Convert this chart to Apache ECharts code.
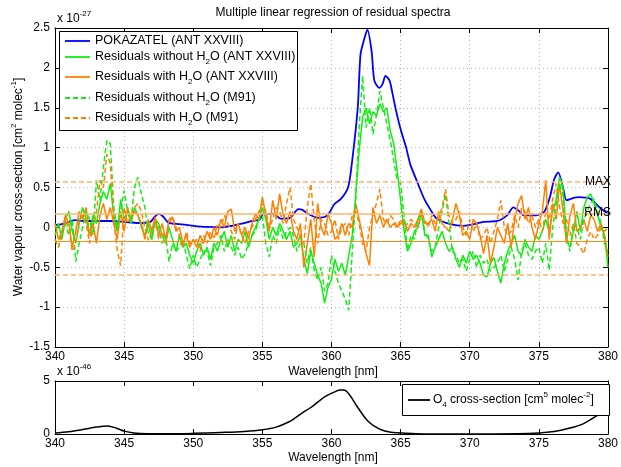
<!DOCTYPE html>
<html>
<head>
<meta charset="utf-8">
<script src="https://cdn.jsdelivr.net/npm/echarts@6/dist/echarts.min.js"></script>
<style>html,body{margin:0;padding:0;background:#fff}#main{width:621px;height:467px}</style>
</head>
<body>
<div id="main"></div>
<script>
// wavelength grid of the residual spectra (nm)
var wlStart = 340, wlStep = 0.25;

// residuals without H2O (ANT XXVIII), x 1e-27
var resNoH2oAnt = [
  -0.10, 0.05, -0.15, 0.10,   0.20, -0.05, -0.20, 0.05,   0.25, 0.10, -0.10, 0.15,
  0.05, 0.30, 0.45, 0.35,     0.55, 0.15, -0.05, 0.35,    0.10, 0.20, 0.05, 0.25,
  0.15, 0.00, -0.10, 0.05,    -0.15, 0.10, 0.05, -0.10,   -0.20, 0.00, -0.15, -0.30,
  -0.10, -0.25, -0.20, -0.35, -0.45, -0.30, -0.20, -0.35, -0.25, -0.40, -0.20, -0.30,
  -0.15, -0.05, -0.25, -0.10, -0.30, -0.15, -0.20, -0.05, -0.25, -0.10, 0.00, 0.10,
  0.25, 0.10, -0.15, 0.00,    -0.10, 0.05, -0.05, -0.15,  -0.05, -0.25, -0.20, -0.10,
  -0.40, -0.58, -0.30, -0.45, -0.60, -0.70, -0.95, -0.75, -0.65, -0.40, -0.55, -0.45,
  -0.60, -0.35, -0.10, 0.40,  0.96, 1.38, 1.50, 1.30,     1.45, 1.40, 1.55, 1.45,
  1.50, 1.21, 1.05, 0.71,     0.34, -0.04, -0.30, -0.20,  -0.05, 0.00, 0.21, -0.10,
  -0.10, -0.37, -0.25, -0.15, -0.05, -0.20, -0.30, -0.25, -0.40, -0.50, -0.35, -0.45,
  -0.30, -0.40, -0.35, -0.45, -0.60, -0.62, -0.45, -0.38, -0.55, -0.70, -0.45, -0.30,
  -0.20, -0.10, -0.30, -0.35, -0.15, -0.25, -0.30, -0.10, -0.15, -0.05, 0.10, -0.05,
  0.20, 0.35, 0.63, 0.50,     -0.15, -0.25, -0.05, 0.20,  -0.05, 0.25, 0.38, 0.42,
  0.30, 0.15, 0.00, -0.10,    -0.50
];

// residuals with H2O (ANT XXVIII)
var resH2oAnt = [
  0.05, -0.15, -0.05, 0.15,   0.05, -0.25, -0.05, 0.20,   0.10, 0.25, -0.10, 0.05,
  -0.20, 0.15, 0.30, 0.10,    0.25, 0.05, -0.15, 0.20,    -0.05, 0.25, 0.10, 0.20,
  0.15, 0.05, -0.15, 0.10,    -0.05, 0.13, -0.10, 0.05,   -0.15, 0.10, 0.13, -0.05,
  0.00, -0.20, -0.10, -0.25,  -0.15, -0.25, -0.10, -0.20, -0.05, -0.15, 0.00, -0.10,
  0.10, 0.00, 0.20, 0.23,     -0.05, 0.05, -0.10, 0.00,   -0.15, 0.05, 0.17, 0.10,
  0.38, 0.15, -0.05, 0.34,    0.10, 0.42, 0.15, 0.05,     0.20, -0.05, -0.15, 0.05,
  -0.50, -0.20, 0.10, -0.37,  0.30, 0.00, -0.10, 0.17,    0.05, -0.15, -0.10, 0.05,
  -0.10, 0.05, 0.00, 0.30,    0.10, -0.10, -0.33, -0.48,  0.25, 0.05, 0.15, 0.00,
  0.10, 0.00, 0.05, 0.00,     0.05, 0.10, -0.05, 0.05,    0.00, 0.10, 0.23, 0.05,
  0.05, 0.10, -0.05, 0.20,    0.05, 0.00, -0.05, 0.10,    0.30, 0.15, -0.10, -0.05,
  -0.15, 0.10, 0.05, -0.10,   -0.33, -0.10, -0.45, -0.25, 0.00, -0.10, -0.20, 0.05,
  -0.25, 0.10, 0.30, 0.40,    0.10, 0.25, 0.00, -0.15,    0.05, 0.20, 0.59, -0.15,
  0.30, 0.10, 0.55, 0.20,     -0.20, 0.15, 0.30, -0.05,   0.00, 0.10, -0.05, 0.15,
  0.10, -0.05, 0.05, -0.10,   -0.37
];

// residuals without H2O (M91)
var resNoH2oM91 = [
  -0.15, -0.25, -0.05, 0.05,  -0.10, 0.10, -0.43, -0.20,  0.00, 0.20, 0.10, -0.10,
  0.59, 0.34, 0.75, 1.09,     1.05, 0.25, 0.00, 0.20,     0.46, 0.21, 0.10, 0.50,
  0.63, 0.42, 0.25, -0.08,    -0.15, 0.05, 0.00, -0.20,   -0.10, -0.43, -0.20, -0.30,
  -0.25, -0.15, -0.35, -0.52, -0.35, -0.50, -0.40, -0.30, -0.30, -0.48, -0.25, -0.20,
  -0.10, -0.30, -0.15, -0.25, -0.35, -0.25, -0.40, -0.33, -0.20, -0.10, -0.05, 0.10,
  0.15, -0.20, -0.37, -0.10,  -0.20, 0.00, -0.15, -0.05,  0.00, -0.10, -0.30, -0.20,
  -0.20, -0.45, -0.25, -0.54, -0.66, -0.50, -0.80, -0.70, -0.35, -0.55, -0.70, -0.80,
  -0.90, -1.04, -0.30, 0.34,  1.25, 1.90, 1.25, 1.50,     1.17, 1.40, 1.71, 1.50,
  1.30, 1.09, 0.84, 0.59,     0.55, 0.13, -0.29, -0.10,   -0.15, 0.10, 0.15, -0.05,
  -0.15, -0.30, -0.25, 0.00,  0.20, 0.42, 0.05, -0.30,    -0.35, -0.45, -0.40, -0.55,
  -0.40, -0.30, -0.50, -0.35, -0.45, -0.40, -0.55, -0.50, -0.45, -0.35, -0.55, -0.40,
  -0.25, -0.40, -0.66, -0.30, -0.20, -0.35, -0.40, -0.30, -0.25, -0.45, -0.20, -0.54,
  0.00, 0.30, 0.55, 0.40,     -0.10, -0.30, 0.05, 0.00,   -0.15, 0.10, 0.20, 0.30,
  0.35, 0.20, 0.05, -0.20,    -0.30
];

// residuals with H2O (M91)
var resH2oM91 = [
  -0.15, -0.25, -0.10, 0.10,  0.00, -0.30, -0.20, 0.10,   0.15, 0.05, -0.20, 0.00,
  0.20, 0.59, 0.50, 0.92,     0.80, 0.10, -0.29, -0.48,   0.25, 0.05, 0.15, 0.25,
  0.30, 0.20, 0.00, -0.16,    -0.05, 0.10, -0.15, -0.05,  -0.20, 0.05, 0.13, 0.00,
  -0.10, -0.25, -0.05, -0.20, -0.20, -0.15, -0.30, -0.10, -0.20, -0.05, -0.15, 0.05,
  0.00, 0.15, 0.05, -0.05,    -0.15, 0.05, -0.10, -0.20,  -0.05, 0.00, 0.10, 0.20,
  0.30, 0.20, 0.00, 0.10,     0.25, 0.20, 0.05, 0.30,     0.50, 0.10, 0.00, -0.10,
  -0.20, 0.25, 0.55, 0.10,    -0.20, 0.10, 0.05, -0.10,   -0.05, 0.10, -0.15, 0.00,
  0.05, -0.10, 0.15, 0.20,    0.05, -0.20, -0.30, 0.00,   0.15, 0.30, 0.48, 0.10,
  0.05, 0.15, 0.10, 0.00,     0.10, 0.00, 0.05, 0.10,     0.05, 0.00, 0.15, 0.10,
  0.00, 0.15, 0.05, 0.10,     0.25, 0.48, 0.15, 0.05,     0.10, 0.20, 0.00, -0.10,
  0.10, -0.05, 0.05, -0.15,   -0.10, 0.00, -0.20, -0.05,  0.10, 0.34, 0.00, -0.10,
  -0.05, 0.15, 0.00, 0.25,    0.20, 0.05, 0.15, 0.00,     0.10, -0.05, 0.20, 0.10,
  0.35, 0.55, 0.25, 0.05,     0.10, -0.10, 0.05, -0.20,   -0.25, -0.33, -0.15, -0.05,
  -0.15, -0.10, 0.00, -0.05,  0.00
];

// POKAZATEL water vapour cross-section, x 1e-27
var pokWl = [340.0, 340.5, 341.0, 341.5, 342.0, 343.0, 344.0, 345.0, 346.0, 346.9, 347.2, 347.5, 347.8, 348.2,
  349.0, 350.0, 351.0, 352.0, 352.8, 353.6, 354.3, 354.8, 355.1, 355.8, 356.3, 357.0, 357.6, 357.9, 358.3,
  359.0, 359.7, 360.2, 360.7, 361.2, 361.5, 361.9, 362.1, 362.4, 362.6, 362.9, 363.1, 363.45, 363.7, 363.9,
  364.2, 364.4, 364.65, 365.0, 365.4, 365.7, 366.2, 366.7, 367.2, 367.6, 368.6, 369.6, 370.3, 371.0, 372.0,
  372.7, 373.15, 373.6, 373.9, 374.8, 375.4, 375.8, 376.1, 376.4, 376.75, 377.0, 377.5, 377.9, 378.7, 379.4, 380.0];
var pokVal = [0.03, 0.04, 0.07, 0.09, 0.08, 0.08, 0.08, 0.07, 0.055, 0.07, 0.13, 0.17, 0.14, 0.06,
  0.04, 0.02, 0.005, 0.0, 0.02, 0.05, 0.08, 0.10, 0.17, 0.17, 0.11, 0.12, 0.23, 0.22, 0.17,
  0.12, 0.15, 0.29, 0.36, 0.50, 0.84, 1.50, 2.17, 2.38, 2.48, 2.21, 1.84, 1.75, 1.80, 1.90,
  1.84, 1.69, 1.48, 1.23, 1.00, 0.79, 0.57, 0.36, 0.21, 0.11, 0.04, 0.02, 0.04, 0.07, 0.08,
  0.15, 0.25, 0.20, 0.15, 0.15, 0.20, 0.38, 0.60, 0.69, 0.50, 0.34, 0.37, 0.38, 0.36, 0.25, 0.17];

// O4 cross-section, x 1e-46
var o4Wl = [340, 341, 342, 343, 343.8, 344.5, 345, 345.7, 346.7, 348, 350, 352, 353.7, 355, 356, 356.9, 357.4,
  357.9, 358.5, 359, 359.5, 360.1, 360.6, 360.9, 361.3, 361.9, 362.7, 363.5, 364.3, 365.4, 366.7, 370,
  373.4, 375, 376.1, 377.1, 378.2, 379.3, 380];
var o4Val = [0.10, 0.22, 0.42, 0.65, 0.75, 0.52, 0.27, 0.10, 0.03, 0.02, 0.06, 0.14, 0.24, 0.40, 0.65, 1.13, 1.54,
  2.00, 2.50, 3.00, 3.50, 3.90, 4.14, 4.14, 3.70, 2.50, 1.13, 0.45, 0.17, 0.07, 0.01, 0.0,
  0.03, 0.10, 0.24, 0.51, 0.96, 1.80, 2.25];

// reference levels of the residuals
var rmsLevels = [0.165, -0.175];
var maxLevels = [0.57, -0.595];

var xTicks = [340, 380, 5];

var FONT = 'Liberation Sans, Arial, Helvetica, sans-serif';
var rich = {
  n: {fontFamily: FONT, fontSize: 12, lineHeight: 18, verticalAlign: 'middle', color: '#000'},
  l: {fontFamily: FONT, fontSize: 12.5, lineHeight: 18, verticalAlign: 'middle', color: '#000'},
  sub: {fontFamily: FONT, fontSize: 8, lineHeight: 10, verticalAlign: 'bottom', color: '#000'},
  sup: {fontFamily: FONT, fontSize: 8, lineHeight: 10, verticalAlign: 'top', color: '#000'}
};

function pairs(xs, ys) {
  return ys.map(function (v, i) { return [xs[i], v]; });
}
var wl = resH2oAnt.map(function (v, i) { return wlStart + i * wlStep; });

function txt(x, y, s, align, extra) {
  var el = {
    type: 'text', x: x, y: y, silent: true, z: 100,
    style: {text: s, rich: rich, font: '12px ' + FONT, fill: '#000',
      align: align || 'left', textAlign: align || 'left',
      verticalAlign: 'middle', textVerticalAlign: 'middle'}
  };
  if (extra) for (var k in extra) el[k] = extra[k];
  return el;
}
function legLine(x1, x2, y, color, dash) {
  return {type: 'line', silent: true, z: 100,
    shape: {x1: x1, y1: y, x2: x2, y2: y},
    style: {stroke: color, lineWidth: 1.8, lineDash: dash || null}};
}

var myChart = echarts.init(document.getElementById('main'));

function xAx(grid, pos, labels) {
  return {
    type: 'value', gridIndex: grid, position: pos, min: xTicks[0], max: xTicks[1], interval: xTicks[2],
    axisLine: {show: true, onZero: false, lineStyle: {color: '#000', width: 1}},
    axisTick: {show: true, inside: true, length: 5, lineStyle: {color: '#000'}},
    axisLabel: {show: labels, fontFamily: FONT, fontSize: 12, color: '#000', margin: 4},
    splitLine: {show: grid === 0 && labels, lineStyle: {color: '#b4b4b4', type: [1, 3], width: 1}}
  };
}
function yAx(grid, pos, labels, min, max, step) {
  return {
    type: 'value', gridIndex: grid, position: pos, min: min, max: max, interval: step,
    axisLine: {show: true, onZero: false, lineStyle: {color: '#000', width: 1}},
    axisTick: {show: true, inside: true, length: 5, lineStyle: {color: '#000'}},
    axisLabel: {show: labels, fontFamily: FONT, fontSize: 12, color: '#000', margin: 5},
    splitLine: {show: grid === 0 && labels, lineStyle: {color: '#b4b4b4', type: [1, 3], width: 1}}
  };
}

var option = {
  animation: false,
  backgroundColor: '#fff',
  grid: [
    {left: 55, top: 28, width: 557, height: 319},
    {left: 55, top: 381, width: 557, height: 53}
  ],
  xAxis: [xAx(0, 'bottom', true), xAx(0, 'top', false), xAx(1, 'bottom', true), xAx(1, 'top', false)],
  yAxis: [yAx(0, 'left', true, -1.5, 2.5, 0.5), yAx(0, 'right', false, -1.5, 2.5, 0.5),
    yAx(1, 'left', true, 0, 5, 5), yAx(1, 'right', false, 0, 5, 5)],
  series: [
    {
      name: 'POKAZATEL (ANT XXVIII)', type: 'line', xAxisIndex: 0, yAxisIndex: 0,
      data: pairs(pokWl, pokVal), showSymbol: false, smooth: 0.25,
      lineStyle: {color: '#0000ff', width: 1.8}
    },
    {
      name: 'Residuals without H2O (ANT XXVIII)', type: 'line', xAxisIndex: 0, yAxisIndex: 0,
      data: pairs(wl, resNoH2oAnt), showSymbol: false,
      lineStyle: {color: '#11ee11', width: 1.5}
    },
    {
      name: 'Residuals with H2O (ANT XXVIII)', type: 'line', xAxisIndex: 0, yAxisIndex: 0,
      data: pairs(wl, resH2oAnt), showSymbol: false,
      lineStyle: {color: '#ff8000', width: 1.5},
      markLine: {
        silent: true, symbol: ['none', 'none'], label: {show: false}, animation: false,
        data: [
          {yAxis: rmsLevels[0], lineStyle: {color: '#ffb46e', width: 1.5, type: 'solid'}},
          {yAxis: rmsLevels[1], lineStyle: {color: '#ff8c1a', width: 1.2, type: 'solid'}}
        ]
      }
    },
    {
      name: 'Residuals without H2O (M91)', type: 'line', xAxisIndex: 0, yAxisIndex: 0,
      data: pairs(wl, resNoH2oM91), showSymbol: false,
      lineStyle: {color: '#11ee11', width: 1.5, type: [5, 3]}
    },
    {
      name: 'Residuals with H2O (M91)', type: 'line', xAxisIndex: 0, yAxisIndex: 0,
      data: pairs(wl, resH2oM91), showSymbol: false,
      lineStyle: {color: '#ff8000', width: 1.5, type: [5, 3]},
      markLine: {
        silent: true, symbol: ['none', 'none'], label: {show: false}, animation: false,
        data: [
          {yAxis: maxLevels[0], lineStyle: {color: '#ffb46e', width: 1.5, type: [5, 3]}},
          {yAxis: maxLevels[1], lineStyle: {color: '#ffb46e', width: 1.5, type: [5, 3]}}
        ]
      }
    },
    {
      name: 'O4 cross-section', type: 'line', xAxisIndex: 2, yAxisIndex: 2,
      data: pairs(o4Wl, o4Val), showSymbol: false, smooth: 0.35,
      lineStyle: {color: '#000', width: 1.5}
    }
  ],
  graphic: [
    txt(333, 13, '{n|Multiple linear regression of residual spectra}', 'center'),
    txt(57, 19, '{n|x 10}{sup|-27}', 'left'),
    txt(19, 187, '{n|Water vapour cross-section [cm}{sup|2}{n| molec}{sup|-1}{n|]}', 'center', {rotation: Math.PI / 2}),
    txt(333, 372, '{n|Wavelength [nm]}', 'center'),
    txt(57, 372, '{n|x 10}{sup|-46}', 'left'),
    txt(333, 458, '{n|Wavelength [nm]}', 'center'),
    txt(611, 182, '{n|MAX}', 'right'),
    txt(611, 213, '{n|RMS}', 'right'),
    // legend of the upper panel
    {type: 'rect', silent: true, z: 99, shape: {x: 59.5, y: 31.5, width: 238, height: 99},
      style: {fill: '#fff', stroke: '#000', lineWidth: 1}},
    legLine(65, 90, 41, '#0000ff'),
    txt(95, 41, '{l|POKAZATEL (ANT XXVIII)}'),
    legLine(65, 90, 57, '#11ee11'),
    txt(95, 57, '{l|Residuals without H}{sub|2}{l|O (ANT XXVIII)}'),
    legLine(65, 90, 77, '#ff8000'),
    txt(95, 77, '{l|Residuals with H}{sub|2}{l|O (ANT XXVIII)}'),
    legLine(65, 90, 98, '#11ee11', [5, 3]),
    txt(95, 98, '{l|Residuals without H}{sub|2}{l|O (M91)}'),
    legLine(65, 90, 118, '#ff8000', [5, 3]),
    txt(95, 118, '{l|Residuals with H}{sub|2}{l|O (M91)}'),
    // legend of the lower panel
    {type: 'rect', silent: true, z: 99, shape: {x: 402.5, y: 384.5, width: 207, height: 31},
      style: {fill: '#fff', stroke: '#000', lineWidth: 1}},
    legLine(408, 430, 400, '#000'),
    txt(433, 400, '{n|O}{sub|4}{n| cross-section [cm}{sup|5}{n| molec}{sup|-2}{n|]}')
  ]
};

myChart.setOption(option);
window.addEventListener('resize', function () {
  myChart.resize();
});
</script>
</body>
</html>
